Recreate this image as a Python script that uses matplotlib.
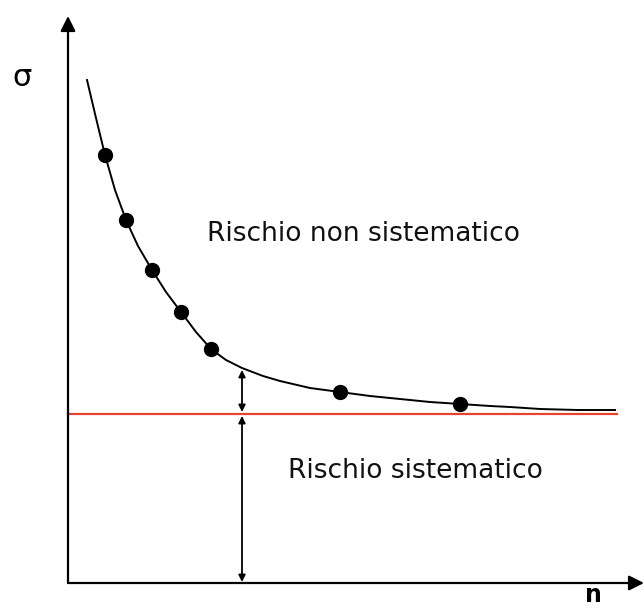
import matplotlib
matplotlib.use("Agg")
import matplotlib.pyplot as plt

# Diagram coordinates (x = number of assets n, y = sigma), arbitrary units
curve_x = [19, 28, 37, 47, 58, 70, 84, 98, 113, 128, 143, 158, 174, 195, 212,
           242, 272, 302, 332, 362, 392, 422, 442, 472, 510, 547]
curve_y = [503, 465, 428, 393, 363, 337, 313, 291, 271, 251, 234, 223, 215, 207, 202,
           195, 191, 187, 184, 181, 179, 177, 176, 174, 173, 173]
dots_x = [37, 58, 84, 113, 143, 272, 392]
dots_y = [428, 363, 313, 271, 234, 191, 179]
systematic_level = 169
marker_x = 174
label_nonsys = "Rischio non sistematico"
label_sys = "Rischio sistematico"

fig = plt.figure(figsize=(6.44, 6.10), dpi=100)
ax = fig.add_axes([0, 0, 1, 1])
ax.set_xlim(-68, 576)
ax.set_ylim(-27, 583)
ax.axis("off")

# axes with arrows
ax.annotate("", xy=(0, 567), xytext=(0, 0), annotation_clip=False,
            arrowprops=dict(arrowstyle="-|>,head_length=0.9,head_width=0.45",
                            color="black", lw=1.6, shrinkA=0, shrinkB=0))
ax.annotate("", xy=(576, 0), xytext=(0, 0), annotation_clip=False,
            arrowprops=dict(arrowstyle="-|>,head_length=0.9,head_width=0.45",
                            color="black", lw=1.6, shrinkA=0, shrinkB=0))

# systematic risk line
ax.plot([0, 549], [systematic_level, systematic_level], color="#e8432f", lw=1.6)

# total risk curve
ax.plot(curve_x, curve_y, color="black", lw=1.4)
ax.plot(dots_x, dots_y, "o", color="black", markersize=10)

# double arrows
top_y = curve_y[curve_x.index(marker_x)]
ax.annotate("", xy=(marker_x, top_y - 2), xytext=(marker_x, systematic_level + 2),
            arrowprops=dict(arrowstyle="<|-|>,head_length=0.4,head_width=0.2",
                            color="black", lw=1.3, shrinkA=0, shrinkB=0))
ax.annotate("", xy=(marker_x, systematic_level - 2), xytext=(marker_x, 1),
            arrowprops=dict(arrowstyle="<|-|>,head_length=0.4,head_width=0.2",
                            color="black", lw=1.3, shrinkA=0, shrinkB=0))

# labels
ax.text(295.5, 342, label_nonsys, fontsize=19, ha="center", va="baseline",
        family="DejaVu Sans", color="#111111")
ax.text(347, 105, label_sys, fontsize=19, ha="center", va="baseline",
        family="DejaVu Sans", color="#111111")
ax.text(-46, 505, "σ", fontsize=22, ha="center", va="center", color="black")
ax.text(525, -19, "n", fontsize=17, fontweight="bold", ha="center", va="baseline",
        color="black")

fig.savefig("out.png", dpi=100)
